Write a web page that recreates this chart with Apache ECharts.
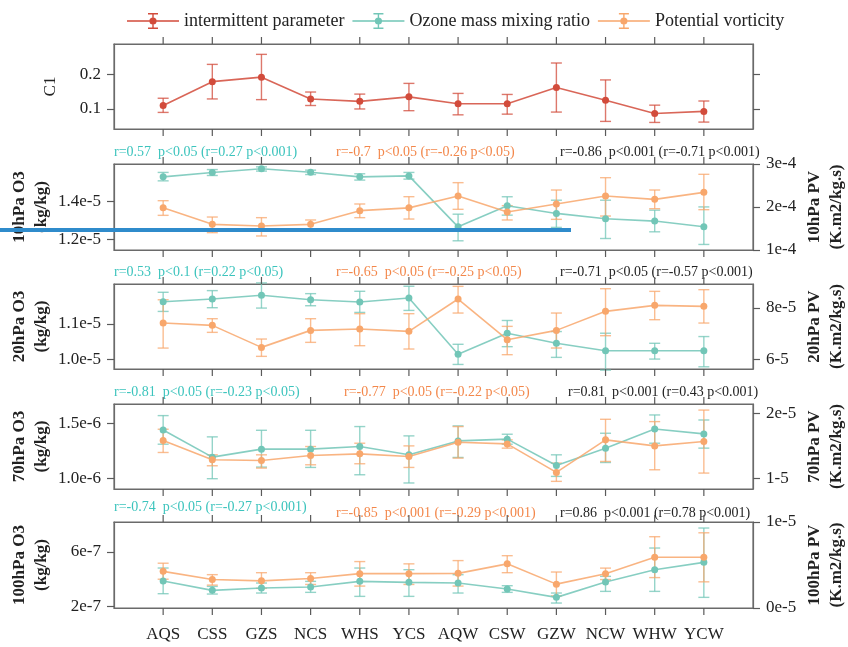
<!DOCTYPE html>
<html>
<head>
<meta charset="utf-8">
<script src="https://cdn.jsdelivr.net/npm/echarts@6/dist/echarts.min.js"></script>
<style>html,body{margin:0;padding:0;background:#fff}#c{width:848px;height:647px}</style>
</head>
<body>
<div id="c"></div>
<script>
// ---------------- data ----------------
const categories = ['AQS','CSS','GZS','NCS','WHS','YCS','AQW','CSW','GZW','NCW','WHW','YCW'];

// (a) intermittent parameter C1
const c1Mean = [0.110,0.179,0.192,0.129,0.122,0.135,0.115,0.115,0.162,0.125,0.087,0.093];
const c1Low  = [0.090,0.129,0.127,0.110,0.100,0.095,0.083,0.085,0.091,0.064,0.061,0.062];
const c1High = [0.131,0.229,0.258,0.149,0.143,0.174,0.145,0.142,0.233,0.184,0.111,0.123];

// (b) 10 hPa
const o3_10Mean = [1.527e-5,1.550e-5,1.569e-5,1.551e-5,1.527e-5,1.532e-5,1.266e-5,1.376e-5,1.336e-5,1.308e-5,1.296e-5,1.266e-5];
const o3_10Low  = [1.506e-5,1.534e-5,1.557e-5,1.539e-5,1.510e-5,1.515e-5,1.193e-5,1.327e-5,1.263e-5,1.205e-5,1.240e-5,1.174e-5];
const o3_10High = [1.550e-5,1.565e-5,1.579e-5,1.562e-5,1.543e-5,1.550e-5,1.332e-5,1.423e-5,1.405e-5,1.405e-5,1.353e-5,1.370e-5];
const pv10Mean = [1.980e-4,1.597e-4,1.558e-4,1.597e-4,1.915e-4,1.980e-4,2.256e-4,1.884e-4,2.070e-4,2.256e-4,2.178e-4,2.341e-4];
const pv10Low  = [1.806e-4,1.403e-4,1.326e-4,1.496e-4,1.752e-4,1.720e-4,1.946e-4,1.698e-4,1.713e-4,1.790e-4,1.961e-4,1.938e-4];
const pv10High = [2.147e-4,1.767e-4,1.752e-4,1.698e-4,2.070e-4,2.240e-4,2.566e-4,2.031e-4,2.395e-4,2.682e-4,2.395e-4,2.760e-4];

// (c) 20 hPa
const o3_20Mean = [1.1623e-5,1.1698e-5,1.1802e-5,1.1679e-5,1.1613e-5,1.1726e-5,1.0142e-5,1.0736e-5,1.0453e-5,1.0245e-5,1.0245e-5,1.0245e-5];
const o3_20Low  = [1.1349e-5,1.1453e-5,1.1443e-5,1.1509e-5,1.1321e-5,1.1377e-5,0.9858e-5,1.0358e-5,1.0057e-5,0.9698e-5,1.0009e-5,0.9792e-5];
const o3_20High = [1.1887e-5,1.1934e-5,1.2151e-5,1.1849e-5,1.1915e-5,1.2057e-5,1.0425e-5,1.1094e-5,1.0783e-5,1.0736e-5,1.0453e-5,1.0642e-5];
const pv20Mean = [7.419e-5,7.329e-5,6.477e-5,7.135e-5,7.187e-5,7.097e-5,8.348e-5,6.774e-5,7.135e-5,7.871e-5,8.103e-5,8.065e-5];
const pv20Low  = [6.450e-5,7.058e-5,6.129e-5,6.671e-5,6.542e-5,6.413e-5,7.806e-5,6.194e-5,6.452e-5,6.929e-5,7.548e-5,7.419e-5];
const pv20High = [8.320e-5,7.587e-5,6.800e-5,7.587e-5,7.781e-5,7.781e-5,8.839e-5,7.290e-5,7.806e-5,8.748e-5,8.645e-5,8.710e-5];

// (d) 70 hPa
const o3_70Mean = [1.439e-6,1.191e-6,1.264e-6,1.264e-6,1.288e-6,1.212e-6,1.339e-6,1.355e-6,1.115e-6,1.273e-6,1.448e-6,1.403e-6];
const o3_70Low  = [1.309e-6,0.994e-6,1.100e-6,1.097e-6,1.030e-6,0.955e-6,1.188e-6,1.309e-6,1.015e-6,1.142e-6,1.318e-6,1.273e-6];
const o3_70High = [1.570e-6,1.376e-6,1.436e-6,1.436e-6,1.470e-6,1.385e-6,1.476e-6,1.400e-6,1.212e-6,1.409e-6,1.576e-6,1.530e-6];
const pv70Mean = [1.579e-5,1.282e-5,1.272e-5,1.349e-5,1.374e-5,1.333e-5,1.554e-5,1.528e-5,1.087e-5,1.590e-5,1.497e-5,1.564e-5];
const pv70Low  = [1.395e-5,1.190e-5,1.154e-5,1.205e-5,1.221e-5,1.164e-5,1.308e-5,1.462e-5,0.949e-5,1.256e-5,1.128e-5,1.077e-5];
const pv70High = [1.754e-5,1.359e-5,1.359e-5,1.487e-5,1.538e-5,1.497e-5,1.795e-5,1.590e-5,1.231e-5,1.908e-5,1.872e-5,2.050e-5];

// (e) 100 hPa
const o3_100Mean = [3.865e-7,3.178e-7,3.350e-7,3.423e-7,3.840e-7,3.767e-7,3.718e-7,3.276e-7,2.663e-7,3.791e-7,4.699e-7,5.239e-7];
const o3_100Low  = [2.933e-7,2.908e-7,2.982e-7,3.031e-7,2.736e-7,2.736e-7,2.982e-7,3.031e-7,2.245e-7,3.104e-7,3.104e-7,2.663e-7];
const o3_100High = [4.822e-7,3.472e-7,3.718e-7,3.840e-7,4.822e-7,4.699e-7,4.331e-7,3.521e-7,2.982e-7,4.209e-7,6.294e-7,7.767e-7];
const pv100Mean = [4.259e-6,3.308e-6,3.156e-6,3.422e-6,3.992e-6,3.992e-6,4.030e-6,5.133e-6,2.776e-6,3.992e-6,5.894e-6,5.894e-6];
const pv100Low  = [3.346e-6,2.662e-6,2.281e-6,2.738e-6,2.548e-6,2.738e-6,2.548e-6,4.106e-6,1.407e-6,3.308e-6,3.536e-6,3.042e-6];
const pv100High = [5.209e-6,3.878e-6,4.106e-6,4.106e-6,5.399e-6,5.133e-6,5.513e-6,6.084e-6,4.183e-6,4.639e-6,8.289e-6,8.745e-6];

// tick values and labels
const c1Ticks = [0.1, 0.2];            const c1TickLabels = ['0.1','0.2'];
const b_leftTicks = [1.2e-5, 1.4e-5];  const b_leftLabels = ['1.2e-5','1.4e-5'];
const b_rightTicks = [1e-4, 2e-4, 3e-4]; const b_rightLabels = ['1e-4','2e-4','3e-4'];
const c_leftTicks = [1.0e-5, 1.1e-5];  const c_leftLabels = ['1.0e-5','1.1e-5'];
const c_rightTicks = [6e-5, 8e-5];     const c_rightLabels = ['6-5','8e-5'];
const d_leftTicks = [1.0e-6, 1.5e-6];  const d_leftLabels = ['1.0e-6','1.5e-6'];
const d_rightTicks = [1e-5, 2e-5];     const d_rightLabels = ['1-5','2e-5'];
const e_leftTicks = [2e-7, 6e-7];      const e_leftLabels = ['2e-7','6e-7'];
const e_rightTicks = [0, 1e-5];        const e_rightLabels = ['0e-5','1e-5'];

// correlation annotations [teal, orange, black]
const annB = ['r=0.57  p<0.05 (r=0.27 p<0.001)', 'r=-0.7  p<0.05 (r=-0.26 p<0.05)', 'r=-0.86  p<0.001 (r=-0.71 p<0.001)'];
const annC = ['r=0.53  p<0.1 (r=0.22 p<0.05)', 'r=-0.65  p<0.05 (r=-0.25 p<0.05)', 'r=-0.71  p<0.05 (r=-0.57 p<0.001)'];
const annD = ['r=-0.81  p<0.05 (r=-0.23 p<0.05)', 'r=-0.77  p<0.05 (r=-0.22 p<0.05)', 'r=0.81  p<0.001 (r=0.43 p<0.001)'];
const annE = ['r=-0.74  p<0.05 (r=-0.27 p<0.001)', 'r=-0.85  p<0.001 (r=-0.29 p<0.001)', 'r=0.86  p<0.001 (r=0.78 p<0.001)'];

const seriesNames = ['intermittent parameter','Ozone mass mixing ratio','Potential vorticity'];

// ---------------- style ----------------
const FONT = 'Liberation Serif';
const RED = '#d24b3b', TEAL = '#72c6b7', ORANGE = '#f8a76c';
const TEAL_TXT = '#3cc4bd', ORANGE_TXT = '#f3874a';
const AXC = '#5a5a5a';
// padded category axis: one empty slot at each end
const xCats = [' '].concat(categories, ['  ']);

function pick(ticks, labels) {
  return v => {
    for (let i = 0; i < ticks.length; i++) {
      if (Math.abs(ticks[i] - v) <= Math.abs(ticks[i]) * 1e-6 + 1e-30) return labels[i];
    }
    return '';
  };
}

const panels = [
  { top: 44, height: 85, left: [0.042, 0.288], right: null,
    lt: c1Ticks, ll: c1TickLabels, lname: 'C1', lbold: false },
  { top: 164, height: 86, left: [1.145e-5, 1.594e-5], right: [1e-4, 3e-4],
    lt: b_leftTicks, ll: b_leftLabels, rt: b_rightTicks, rl: b_rightLabels,
    lname: '10hPa O3\n(kg/kg)', rname: '10hPa PV\n(K.m2/kg.s)' },
  { top: 284, height: 85, left: [0.973e-5, 1.212e-5], right: [5.64e-5, 8.93e-5],
    lt: c_leftTicks, ll: c_leftLabels, rt: c_rightTicks, rl: c_rightLabels,
    lname: '20hPa O3\n(kg/kg)', rname: '20hPa PV\n(K.m2/kg.s)' },
  { top: 404, height: 85, left: [0.9e-6, 1.676e-6], right: [0.831e-5, 2.144e-5],
    lt: d_leftTicks, ll: d_leftLabels, rt: d_rightTicks, rl: d_rightLabels,
    lname: '70hPa O3\n(kg/kg)', rname: '70hPa PV\n(K.m2/kg.s)' },
  { top: 522, height: 86, left: [1.88e-7, 8.21e-7], right: [0, 1e-5],
    lt: e_leftTicks, ll: e_leftLabels, rt: e_rightTicks, rl: e_rightLabels,
    lname: '100hPa O3\n(kg/kg)', rname: '100hPa PV\n(K.m2/kg.s)' }
];

const lineOn = { show: true, onZero: false, lineStyle: { color: '#6a6a6a', width: 1.2 } };
const grid = [], xAxis = [], yAxis = [];
panels.forEach((p, k) => {
  grid.push({ left: 114, right: 95, top: p.top, height: p.height, show: true,
    outerBoundsMode: 'none', containLabel: false,
    borderColor: '#6a6a6a', borderWidth: 1.2, backgroundColor: 'transparent' });
  const last = k === panels.length - 1;
  ['bottom', 'top'].forEach(pos => {
    xAxis.push({
      type: 'category', gridIndex: k, position: pos, data: xCats, boundaryGap: false,
      axisLine: lineOn,
      splitLine: { show: false },
      axisTick: { show: false },
      axisLabel: { show: last && pos === 'bottom', interval: 0, margin: 18,
        fontFamily: FONT, fontSize: 17, color: '#222' }
    });
  });
  yAxis.push({
    type: 'value', gridIndex: k, position: 'left', min: p.left[0], max: p.left[1],
    axisLine: lineOn, splitLine: { show: false },
    axisTick: { show: true, inside: false, length: 7, customValues: p.lt, lineStyle: { color: AXC, width: 1.2 } },
    axisLabel: { customValues: p.lt, formatter: pick(p.lt, p.ll), margin: 13,
      fontFamily: FONT, fontSize: 17, color: '#222' },
    name: p.lname, nameLocation: 'middle', nameRotate: 90, nameMoveOverlap: false,
    nameGap: k === 0 ? 52 : 61,
    nameTextStyle: { fontFamily: FONT, fontSize: 17, lineHeight: 22, color: '#222',
      fontWeight: p.lbold === false ? 'normal' : 'bold' }
  });
  if (p.right) {
    yAxis.push({
      type: 'value', gridIndex: k, position: 'right', min: p.right[0], max: p.right[1],
      axisLine: lineOn, splitLine: { show: false },
      axisTick: { show: true, inside: false, length: 7, customValues: p.rt, lineStyle: { color: AXC, width: 1.2 } },
      axisLabel: { customValues: p.rt, formatter: pick(p.rt, p.rl), margin: 13,
        fontFamily: FONT, fontSize: 17, color: '#222' },
      name: p.rname, nameLocation: 'middle', nameRotate: 90, nameMoveOverlap: false, nameGap: 51,
      nameTextStyle: { fontFamily: FONT, fontSize: 17, lineHeight: 22, color: '#222', fontWeight: 'bold' }
    });
  } else {
    yAxis.push({
      type: 'value', gridIndex: k, position: 'right', min: p.left[0], max: p.left[1],
      axisLine: lineOn, splitLine: { show: false },
      axisTick: { show: true, inside: false, length: 7, customValues: p.lt, lineStyle: { color: AXC, width: 1.2 } },
      axisLabel: { show: false }
    });
  }
});

function errSeries(k, yIdx, low, high, color) {
  return {
    type: 'custom', xAxisIndex: 2 * k, yAxisIndex: 2 * k + yIdx, z: 2, silent: true, clip: false,
    itemStyle: { color },
    data: categories.map((c, i) => [c, low[i], high[i]]),
    renderItem: (params, api) => {
      const x = api.value(0);
      const a = api.coord([x, api.value(1)]);
      const b = api.coord([x, api.value(2)]);
      const w = 5.5;
      const st = { stroke: color, lineWidth: 1.4, opacity: 0.75 };
      return { type: 'group', children: [
        { type: 'line', shape: { x1: a[0], y1: a[1], x2: b[0], y2: b[1] }, style: st },
        { type: 'line', shape: { x1: a[0] - w, y1: a[1], x2: a[0] + w, y2: a[1] }, style: st },
        { type: 'line', shape: { x1: b[0] - w, y1: b[1], x2: b[0] + w, y2: b[1] }, style: st }
      ]};
    }
  };
}
function lineSeries(k, yIdx, name, mean, color) {
  return {
    type: 'line', name, xAxisIndex: 2 * k, yAxisIndex: 2 * k + yIdx, z: 3,
    data: categories.map((c, i) => [c, mean[i]]),
    symbol: 'circle', symbolSize: 7,
    lineStyle: { color, width: 1.6, opacity: 0.85 },
    itemStyle: { color },
    clip: false
  };
}

const series = [
  errSeries(0, 0, c1Low, c1High, RED), lineSeries(0, 0, seriesNames[0], c1Mean, RED),
  errSeries(1, 0, o3_10Low, o3_10High, TEAL), lineSeries(1, 0, seriesNames[1], o3_10Mean, TEAL),
  errSeries(1, 1, pv10Low, pv10High, ORANGE), lineSeries(1, 1, seriesNames[2], pv10Mean, ORANGE),
  errSeries(2, 0, o3_20Low, o3_20High, TEAL), lineSeries(2, 0, seriesNames[1], o3_20Mean, TEAL),
  errSeries(2, 1, pv20Low, pv20High, ORANGE), lineSeries(2, 1, seriesNames[2], pv20Mean, ORANGE),
  errSeries(3, 0, o3_70Low, o3_70High, TEAL), lineSeries(3, 0, seriesNames[1], o3_70Mean, TEAL),
  errSeries(3, 1, pv70Low, pv70High, ORANGE), lineSeries(3, 1, seriesNames[2], pv70Mean, ORANGE),
  errSeries(4, 0, o3_100Low, o3_100High, TEAL), lineSeries(4, 0, seriesNames[1], o3_100Mean, TEAL),
  errSeries(4, 1, pv100Low, pv100High, ORANGE), lineSeries(4, 1, seriesNames[2], pv100Mean, ORANGE)
];

// annotations
const annFont = '14px "Liberation Serif"';
const annRows = [
  { t: annB, y: [145, 145, 145], x: [114, 336, 560] },
  { t: annC, y: [265, 265, 265], x: [114, 336, 560] },
  { t: annD, y: [385, 385, 385], x: [114, 344, 568] },
  { t: annE, y: [500, 506, 506], x: [114, 336, 560] }
];
const graphic = [];
annRows.forEach(r => {
  [TEAL_TXT, ORANGE_TXT, '#222'].forEach((c, j) => {
    graphic.push({ type: 'text', left: r.x[j], top: r.y[j], z: 1,
      style: { text: r.t[j], fill: c, font: annFont } });
  });
});
// blue overlay stroke present in the reference picture
graphic.push({ type: 'rect', left: 0, top: 228, z: 100,
  shape: { width: 571, height: 4 }, style: { fill: '#2f8bcb' } });

const legendIcon = 'path://M0,7.3L52,7.3L52,8.7L0,8.7Z M25.3,0L26.7,0L26.7,16L25.3,16Z M21,0L31,0L31,1.4L21,1.4Z M21,14.6L31,14.6L31,16L21,16Z M29.6,8A3.6,3.6 0 1 1 22.4,8A3.6,3.6 0 1 1 29.6,8Z';

const option = {
  animation: false,
  backgroundColor: '#fff',
  legend: {
    data: seriesNames, left: 122, top: 7, itemWidth: 52, itemHeight: 16, itemGap: 8,
    icon: legendIcon, itemStyle: { borderWidth: 0 },
    textStyle: { fontFamily: FONT, fontSize: 18, color: '#222', padding: [0, 0, 0, 0] }
  },
  grid, xAxis, yAxis, series, graphic
};

const chart = echarts.init(document.getElementById('c'), null, { renderer: 'canvas' });
chart.setOption(option);

// category tick marks on the top and bottom edge of each panel,
// placed with the library's own axis scales (convertToPixel)
const tickGraphics = [];
panels.forEach((p, k) => {
  const yTop = chart.convertToPixel({ yAxisIndex: 2 * k }, p.left[1]);
  const yBot = chart.convertToPixel({ yAxisIndex: 2 * k }, p.left[0]);
  categories.forEach(c => {
    const x = chart.convertToPixel({ xAxisIndex: 2 * k }, c);
    if (typeof x !== 'number' || isNaN(x)) return;
    tickGraphics.push({ type: 'line', z: 50, silent: true,
      shape: { x1: x, y1: yTop - 7, x2: x, y2: yTop }, style: { stroke: AXC, lineWidth: 1.2 } });
    tickGraphics.push({ type: 'line', z: 50, silent: true,
      shape: { x1: x, y1: yBot, x2: x, y2: yBot + 7 }, style: { stroke: AXC, lineWidth: 1.2 } });
  });
});
chart.setOption({ graphic: graphic.concat(tickGraphics) });
</script>
</body>
</html>
